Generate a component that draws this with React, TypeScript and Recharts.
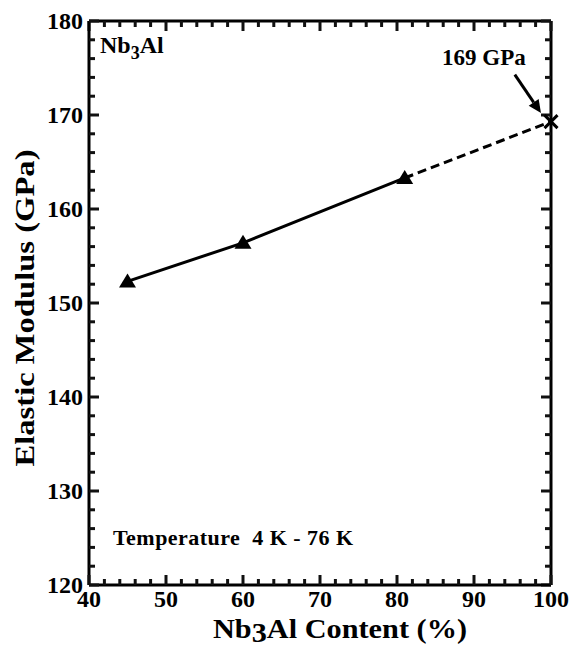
import { ComposedChart, Line, XAxis, YAxis, ReferenceLine } from 'recharts'

// Nb3Al content (%) vs elastic modulus (GPa)
const contentPct = [45, 60, 81, 100]
const measured = [152.3, 156.4, 163.3, null]
const extrapolated = [null, null, 163.3, 169.3]

const xTicks = [40, 42, 44, 46, 48, 50, 52, 54, 56, 58, 60, 62, 64, 66, 68, 70, 72, 74, 76, 78, 80, 82, 84, 86, 88, 90, 92, 94, 96, 98, 100]
const yTicks = [120, 122, 124, 126, 128, 130, 132, 134, 136, 138, 140, 142, 144, 146, 148, 150, 152, 154, 156, 158, 160, 162, 164, 166, 168, 170, 172, 174, 176, 178, 180]
const xMajor = [40, 50, 60, 70, 80, 90, 100]
const yMajor = [120, 130, 140, 150, 160, 170, 180]

// arrow pointing at the extrapolated 169 GPa value
const arrowFrom = { x: 95.3, y: 174.3 }
const arrowTo = { x: 98.7, y: 170.2 }
const plotCorners = [{ x: 40, y: 120 }, { x: 100, y: 180 }]

const data = contentPct.map((x, i) => ({ x, measured: measured[i], extrapolated: extrapolated[i] }))

const FONT = '"Liberation Serif", Tinos, "Times New Roman", Times, serif'
const W = 574
const H = 661
const txt = { fontFamily: FONT, fontWeight: 700 }
const TICK = '#111'
const TW = 3

const BottomTick = (props: any) => {
  const { x, y, payload } = props
  const major = xMajor.includes(payload.value)
  return (
    <g>
      <line x1={x} y1={y} x2={x} y2={y - (major ? 10 : 6)} stroke={TICK} strokeWidth={TW} />
      {major && (
        <text x={x} y={y + 22} textAnchor="middle" fontSize={24} fill="#000" style={txt}>
          {payload.value}
        </text>
      )}
    </g>
  )
}

const LeftTick = (props: any) => {
  const { x, y, payload } = props
  const major = yMajor.includes(payload.value)
  return (
    <g>
      <line x1={x} y1={y} x2={x + (major ? 10 : 6)} y2={y} stroke={TICK} strokeWidth={TW} />
      {major && (
        <text x={x - 6} y={y + 8} textAnchor="end" fontSize={24} fill="#000" style={txt}>
          {payload.value}
        </text>
      )}
    </g>
  )
}

// right-hand ticks, at the far end of each horizontal reference line
const RightTicks = (major: boolean) => (p: any) => {
  const len = major ? 10 : 6
  return <line x1={p.x2} y1={p.y2} x2={p.x2 - len} y2={p.y2} stroke={TICK} strokeWidth={TW} />
}

// top ticks, at the far end of each vertical reference line
const TopTicks = (major: boolean) => (p: any) => {
  const len = major ? 10 : 6
  return <line x1={p.x2} y1={p.y2} x2={p.x2} y2={p.y2 + len} stroke={TICK} strokeWidth={TW} />
}

const Triangle = (props: any) => {
  const { cx, cy, index, value } = props
  if (value == null || cx == null || cy == null) return <g key={`t-${index}`} />
  return <polygon key={`t-${index}`} points={`${cx},${cy - 8} ${cx - 8.5},${cy + 6} ${cx + 8.5},${cy + 6}`} fill="#000" />
}

const XMark = (props: any) => {
  const { cx, cy, index, value, payload } = props
  if (value == null || cx == null || payload.measured != null) return <g key={`x-${index}`} />
  const s = 6.5
  return (
    <g key={`x-${index}`} stroke="#000" strokeWidth={3}>
      <line x1={cx - s} y1={cy - s} x2={cx + s} y2={cy + s} />
      <line x1={cx - s} y1={cy + s} x2={cx + s} y2={cy - s} />
    </g>
  )
}

const Arrow = (props: any) => {
  const { x1, y1, x2, y2 } = props
  const ang = Math.atan2(y2 - y1, x2 - x1)
  const bx = x2 - 13 * Math.cos(ang)
  const by = y2 - 13 * Math.sin(ang)
  const px = -Math.sin(ang) * 6
  const py = Math.cos(ang) * 6
  return (
    <g>
      <line x1={x1} y1={y1} x2={bx} y2={by} stroke="#000" strokeWidth={3} />
      <polygon points={`${x2},${y2} ${bx + px},${by + py} ${bx - px},${by - py}`} fill="#000" />
    </g>
  )
}

// titles and annotations, placed relative to the plot box
const Texts = (p: any) => {
  const L = Math.min(p.x1, p.x2)
  const R = Math.max(p.x1, p.x2)
  const T = Math.min(p.y1, p.y2)
  const B = Math.max(p.y1, p.y2)
  const ycx = L - 55
  const ycy = (T + B) / 2 + 5
  return (
    <g fill="#000" style={txt}>
      <text x={L + 11} y={T + 32} fontSize={24}>
        Nb<tspan fontSize={18} dy={6}>3</tspan><tspan dy={-6}>Al</tspan>
      </text>
      <text x={R - 109} y={T + 44} fontSize={23}>169 GPa</text>
      <text x={L + 24} y={B - 40} fontSize={22} textLength={240} style={{ whiteSpace: 'pre' }}>
        Temperature  4 K - 76 K
      </text>
      <text
        x={ycx}
        y={ycy}
        fontSize={27}
        textAnchor="middle"
        textLength={317}
        lengthAdjust="spacingAndGlyphs"
        transform={`rotate(-90, ${ycx}, ${ycy})`}
      >
        Elastic Modulus (GPa)
      </text>
      <text x={(L + R) / 2 + 20} y={B + 53} fontSize={27} textAnchor="middle" textLength={254} lengthAdjust="spacingAndGlyphs">
        Nb<tspan dy={4}>3</tspan><tspan dy={-4}>Al Content (%)</tspan>
      </text>
    </g>
  )
}

const axisLine = { stroke: '#000', strokeWidth: 3 }

export default function App() {
  return (
    <div style={{ position: 'absolute', left: 0, top: 0, width: W, height: H }}>
      <ComposedChart width={W} height={H} data={data} margin={{ top: 21, right: 23, left: 0, bottom: 0 }}>
        <XAxis dataKey="x" type="number" domain={[40, 100]} ticks={xTicks} interval={0} height={76} tickSize={0} tickMargin={0} tickLine={false} tick={<BottomTick />} axisLine={axisLine} />
        <YAxis type="number" domain={[120, 180]} ticks={yTicks} interval={0} width={89} tickSize={0} tickMargin={0} tickLine={false} tick={<LeftTick />} axisLine={axisLine} />
        <ReferenceLine y={180} stroke="#000" strokeWidth={3} />
        <ReferenceLine x={100} stroke="#000" strokeWidth={3} />
        {xTicks.map((t) => (
          <ReferenceLine key={`xt-${t}`} x={t} shape={TopTicks(xMajor.includes(t))} />
        ))}
        {yTicks.map((t) => (
          <ReferenceLine key={`yt-${t}`} y={t} shape={RightTicks(yMajor.includes(t))} />
        ))}
        <Line type="linear" dataKey="extrapolated" stroke="#000" strokeWidth={3} strokeDasharray="9 5" dot={XMark} activeDot={false} isAnimationActive={false} />
        <Line type="linear" dataKey="measured" stroke="#000" strokeWidth={3} dot={Triangle} activeDot={false} isAnimationActive={false} />
        <ReferenceLine segment={[arrowFrom, arrowTo]} shape={Arrow} />
        <ReferenceLine segment={plotCorners} shape={Texts} />
      </ComposedChart>
    </div>
  )
}
